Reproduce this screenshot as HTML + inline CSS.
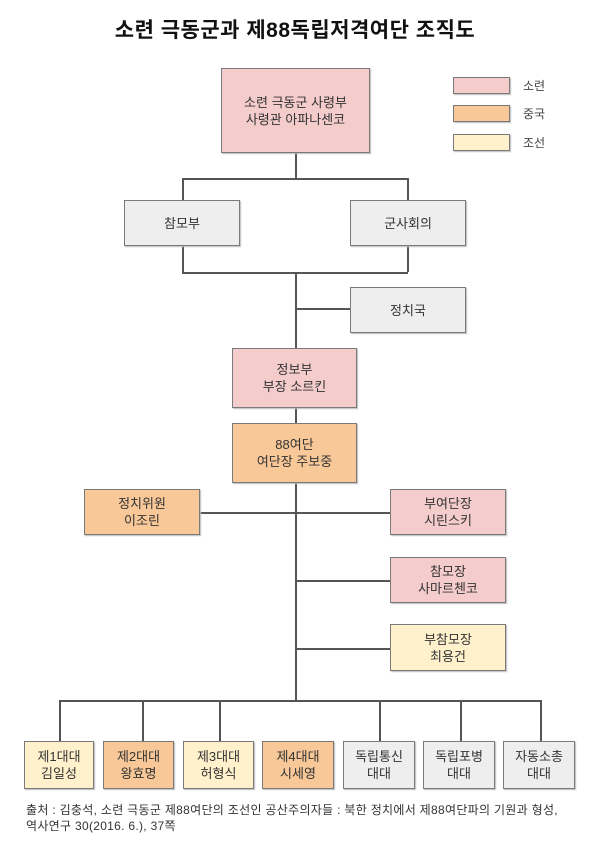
<!DOCTYPE html>
<html><head><meta charset="utf-8"><style>
body{margin:0;width:613px;height:841px;background:#fff;position:relative;overflow:hidden;font-family:"Liberation Sans","Noto Sans CJK KR",sans-serif;}
.b{position:absolute;box-sizing:border-box;border:1px solid #7a7a7a;display:flex;align-items:center;justify-content:center;text-align:center;font-size:13px;line-height:17px;color:#333;box-shadow:1px 1px 1px #bbb;}
.p{background:#f4cccc}.o{background:#f8c898}.c{background:#fff1cc}.g{background:#eeeeee}
.h,.v{position:absolute;background:#555;}
.h{height:1.5px}.v{width:1.5px}
.t{position:absolute;font-size:12px;color:#444}
</style></head><body>
<div style="position:absolute;left:0;width:590px;top:14px;text-align:center;font-size:21px;font-weight:bold;color:#111;letter-spacing:0.5px">소련 극동군과 제88독립저격여단 조직도</div>

<div class="v" style="left:295px;top:153px;height:25px"></div>
<div class="h" style="left:182px;top:178px;width:226px"></div>
<div class="v" style="left:182px;top:178px;height:22px"></div>
<div class="v" style="left:407px;top:178px;height:22px"></div>
<div class="v" style="left:182px;top:246px;height:26px"></div>
<div class="v" style="left:407px;top:246px;height:26px"></div>
<div class="h" style="left:182px;top:272px;width:226px"></div>
<div class="v" style="left:295px;top:272px;height:428px"></div>
<div class="h" style="left:295px;top:308px;width:55px"></div>
<div class="h" style="left:200px;top:512px;width:190px"></div>
<div class="h" style="left:295px;top:580px;width:95px"></div>
<div class="h" style="left:295px;top:648px;width:95px"></div>
<div class="h" style="left:59px;top:700px;width:482px"></div>
<div class="v" style="left:59px;top:700px;height:41px"></div>
<div class="v" style="left:142px;top:700px;height:41px"></div>
<div class="v" style="left:219px;top:700px;height:41px"></div>
<div class="v" style="left:379px;top:700px;height:41px"></div>
<div class="v" style="left:460px;top:700px;height:41px"></div>
<div class="v" style="left:540px;top:700px;height:41px"></div>

<div class="b p" style="left:221px;top:68px;width:149px;height:85px">소련 극동군 사령부<br>사령관 아파나센코</div>
<div class="b p" style="left:453px;top:77px;width:57px;height:17px"></div>
<div class="b o" style="left:453px;top:105px;width:57px;height:17px"></div>
<div class="b c" style="left:453px;top:134px;width:57px;height:17px"></div>
<div class="t" style="left:523px;top:77px">소련</div>
<div class="t" style="left:523px;top:105px">중국</div>
<div class="t" style="left:523px;top:134px">조선</div>

<div class="b g" style="left:124px;top:200px;width:116px;height:46px">참모부</div>
<div class="b g" style="left:350px;top:200px;width:116px;height:46px">군사회의</div>
<div class="b g" style="left:350px;top:287px;width:116px;height:46px">정치국</div>
<div class="b p" style="left:232px;top:348px;width:125px;height:60px">정보부<br>부장 소르킨</div>
<div class="b o" style="left:232px;top:423px;width:125px;height:60px">88여단<br>여단장 주보중</div>
<div class="b o" style="left:84px;top:489px;width:116px;height:46px">정치위원<br>이조린</div>
<div class="b p" style="left:390px;top:489px;width:116px;height:46px">부여단장<br>시린스키</div>
<div class="b p" style="left:390px;top:557px;width:116px;height:46px">참모장<br>사마르첸코</div>
<div class="b c" style="left:390px;top:624px;width:116px;height:47px">부참모장<br>최용건</div>

<div class="b c" style="left:24px;top:741px;width:70px;height:48px">제1대대<br>김일성</div>
<div class="b o" style="left:103px;top:741px;width:71px;height:48px">제2대대<br>왕효명</div>
<div class="b c" style="left:183px;top:741px;width:71px;height:48px">제3대대<br>허형식</div>
<div class="b o" style="left:262px;top:741px;width:72px;height:48px">제4대대<br>시세영</div>
<div class="b g" style="left:343px;top:741px;width:72px;height:48px">독립통신<br>대대</div>
<div class="b g" style="left:423px;top:741px;width:72px;height:48px">독립포병<br>대대</div>
<div class="b g" style="left:503px;top:741px;width:72px;height:48px">자동소총<br>대대</div>

<div style="position:absolute;left:26px;top:802px;font-size:12px;line-height:16px;color:#333;letter-spacing:0.3px;white-space:nowrap">출처 : 김충석, 소련 극동군 제88여단의 조선인 공산주의자들 : 북한 정치에서 제88여단파의 기원과 형성,<br>역사연구 30(2016. 6.), 37쪽</div>
</body></html>
